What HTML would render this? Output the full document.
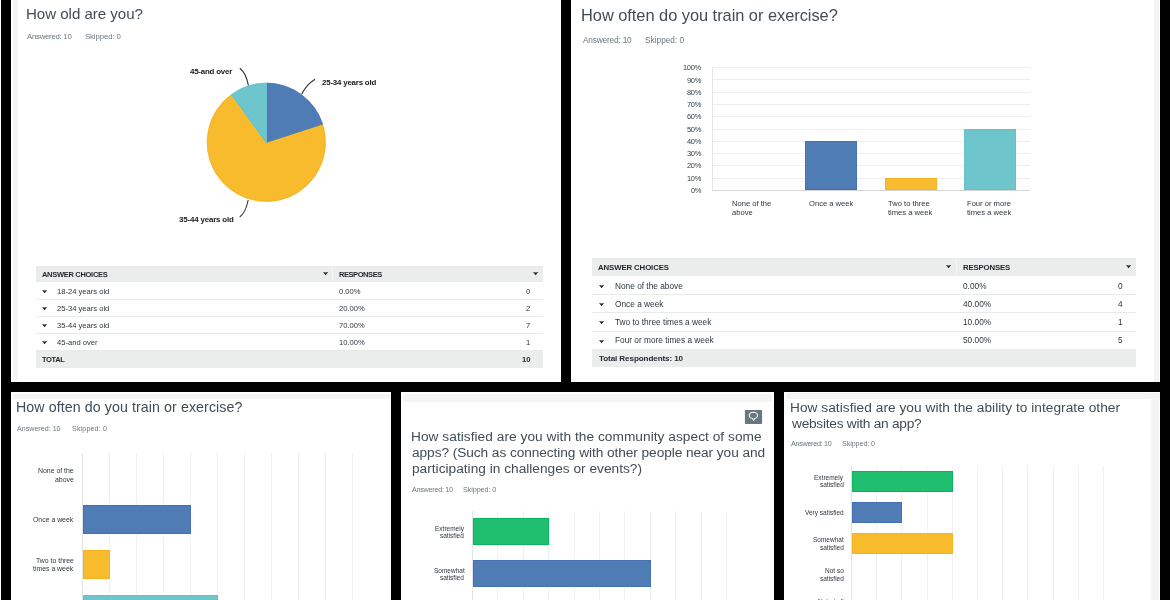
<!DOCTYPE html>
<html><head><meta charset="utf-8">
<style>
html,body{margin:0;padding:0}
body{width:1170px;height:600px;background:#000;position:relative;overflow:hidden;font-family:"Liberation Sans",sans-serif;color:#333e48}
.a{position:absolute;white-space:nowrap;line-height:1;will-change:transform}
</style></head><body>

<div class="a" style="left:0px;top:0px;width:1px;height:600px;background:#fff;"></div>
<div class="a" style="left:11px;top:0px;width:550px;height:382px;background:#fff;"></div>
<div class="a" style="left:12.5px;top:0px;width:4.5px;height:380px;background:#f3f4f4;"></div>
<div class="a" style="left:571px;top:0px;width:589px;height:382px;background:#fff;"></div>
<div class="a" style="left:1154px;top:0px;width:5px;height:382px;background:#f3f4f4;"></div>
<div class="a" style="left:11px;top:392px;width:380px;height:208px;background:#fff;"></div>
<div class="a" style="left:13px;top:394px;width:378px;height:4.5px;background:#f3f4f4;"></div>
<div class="a" style="left:401px;top:392px;width:373px;height:208px;background:#fff;"></div>
<div class="a" style="left:403px;top:394px;width:369px;height:7.5px;background:#f3f4f4;"></div>
<div class="a" style="left:784px;top:392px;width:376px;height:208px;background:#fff;"></div>
<div class="a" style="left:786px;top:393px;width:374px;height:6px;background:#f3f4f4;"></div>
<div class="a" style="left:1151px;top:393px;width:8px;height:207px;background:#f3f4f4;"></div>
<div class="a" style="left:26.20px;top:5.50px;font-size:15.1px;font-weight:400;color:#414c55;letter-spacing:-0.038px;">How old are you?</div>
<div class="a" style="left:27.20px;top:32.90px;font-size:7.8px;font-weight:400;color:#6b787f;letter-spacing:-0.267px;">Answered: 10</div>
<div class="a" style="left:85.20px;top:32.90px;font-size:7.8px;font-weight:400;color:#6b787f;letter-spacing:-0.112px;">Skipped: 0</div>
<svg class="a" style="left:0;top:0" width="600" height="382" viewBox="0 0 600 382"><path d="M266.3,142.3 L266.30,83.10 A59.2,59.2 0 0 1 322.60,124.01 Z" fill="#507cb6" stroke="#3b6fb8" stroke-width="0.8" stroke-linejoin="round"/><path d="M266.3,142.3 L322.60,124.01 A59.2,59.2 0 1 1 231.50,94.41 Z" fill="#f7bb2d" stroke="#f3b01e" stroke-width="0.8" stroke-linejoin="round"/><path d="M266.3,142.3 L231.50,94.41 A59.2,59.2 0 0 1 266.30,83.10 Z" fill="#6ec6cc" stroke="#5cc4d4" stroke-width="0.8" stroke-linejoin="round"/><path d="M266.3,142.3 L322.60,124.01" stroke="#2d6fd6" stroke-width="0.9" fill="none"/><path d="M266.3,142.3 L231.50,94.41" stroke="#48c6ea" stroke-width="0.9" fill="none"/><path d="M266.3,83.10000000000001 L266.3,142.3" stroke="#8fd0d8" stroke-width="0.5" fill="none"/><path d="M239.8,68.2 Q246,73 248.4,85.3" fill="none" stroke="#2e3439" stroke-width="1.1"/><path d="M315,79.2 Q306,85 301.8,94" fill="none" stroke="#2e3439" stroke-width="1.1"/><path d="M248.2,200 Q245.5,213 239.7,217" fill="none" stroke="#2e3439" stroke-width="1.1"/></svg>
<div class="a" style="left:190.40px;top:67.50px;font-size:7.9px;font-weight:700;color:#1a1a1a;letter-spacing:-0.202px;">45-and over</div>
<div class="a" style="left:321.50px;top:79.10px;font-size:7.9px;font-weight:700;color:#1a1a1a;letter-spacing:-0.193px;">25-34 years old</div>
<div class="a" style="left:179.00px;top:215.90px;font-size:7.9px;font-weight:700;color:#1a1a1a;letter-spacing:-0.157px;">35-44 years old</div>
<div class="a" style="left:35.5px;top:266px;width:507.0px;height:16px;background:#ebecec;"></div>
<div class="a" style="left:332px;top:266px;width:1.3px;height:16px;background:#f4f5f5;"></div>
<div class="a" style="left:41.50px;top:271.00px;font-size:7.5px;font-weight:700;color:#1e252b;letter-spacing:-0.299px;">ANSWER CHOICES</div>
<svg class="a" style="left:322.70px;top:271.60px;overflow:visible" width="5.2" height="3.2"><path d="M0,0 L2.60,0.38 L5.20,0 L2.60,3.20 Z" fill="#1e252b"/></svg>
<div class="a" style="left:339.00px;top:271.00px;font-size:7.5px;font-weight:700;color:#1e252b;letter-spacing:-0.435px;">RESPONSES</div>
<svg class="a" style="left:532.50px;top:271.60px;overflow:visible" width="5.2" height="3.2"><path d="M0,0 L2.60,0.38 L5.20,0 L2.60,3.20 Z" fill="#1e252b"/></svg>
<svg class="a" style="left:41.70px;top:290.10px;overflow:visible" width="5.2" height="3.2"><path d="M0,0 L2.60,0.38 L5.20,0 L2.60,3.20 Z" fill="#1e252b"/></svg>
<div class="a" style="left:56.50px;top:288.20px;font-size:7.6px;font-weight:400;color:#2c363f;">18-24 years old</div>
<div class="a" style="left:338.90px;top:288.20px;font-size:7.6px;font-weight:400;color:#2c363f;">0.00%</div>
<div class="a" style="left:526.00px;top:288.20px;font-size:7.6px;font-weight:400;color:#2c363f;">0</div>
<div class="a" style="left:35.5px;top:299px;width:507.0px;height:1.2px;background:#e9eaea;"></div>
<svg class="a" style="left:41.70px;top:307.10px;overflow:visible" width="5.2" height="3.2"><path d="M0,0 L2.60,0.38 L5.20,0 L2.60,3.20 Z" fill="#1e252b"/></svg>
<div class="a" style="left:56.50px;top:305.20px;font-size:7.6px;font-weight:400;color:#2c363f;">25-34 years old</div>
<div class="a" style="left:338.90px;top:305.20px;font-size:7.6px;font-weight:400;color:#2c363f;">20.00%</div>
<div class="a" style="left:526.00px;top:305.20px;font-size:7.6px;font-weight:400;color:#2c363f;">2</div>
<div class="a" style="left:35.5px;top:316px;width:507.0px;height:1.2px;background:#e9eaea;"></div>
<svg class="a" style="left:41.70px;top:324.10px;overflow:visible" width="5.2" height="3.2"><path d="M0,0 L2.60,0.38 L5.20,0 L2.60,3.20 Z" fill="#1e252b"/></svg>
<div class="a" style="left:56.50px;top:322.20px;font-size:7.6px;font-weight:400;color:#2c363f;">35-44 years old</div>
<div class="a" style="left:338.90px;top:322.20px;font-size:7.6px;font-weight:400;color:#2c363f;">70.00%</div>
<div class="a" style="left:526.00px;top:322.20px;font-size:7.6px;font-weight:400;color:#2c363f;">7</div>
<div class="a" style="left:35.5px;top:333px;width:507.0px;height:1.2px;background:#e9eaea;"></div>
<svg class="a" style="left:41.70px;top:341.10px;overflow:visible" width="5.2" height="3.2"><path d="M0,0 L2.60,0.38 L5.20,0 L2.60,3.20 Z" fill="#1e252b"/></svg>
<div class="a" style="left:56.50px;top:339.20px;font-size:7.6px;font-weight:400;color:#2c363f;">45-and over</div>
<div class="a" style="left:338.90px;top:339.20px;font-size:7.6px;font-weight:400;color:#2c363f;">10.00%</div>
<div class="a" style="left:526.00px;top:339.20px;font-size:7.6px;font-weight:400;color:#2c363f;">1</div>
<div class="a" style="left:35.5px;top:350px;width:507.0px;height:1.2px;background:#e9eaea;"></div>
<div class="a" style="left:35.5px;top:350.5px;width:507.0px;height:16.5px;background:#ebecec;"></div>
<div class="a" style="left:41.50px;top:355.50px;font-size:7.5px;font-weight:700;color:#1e252b;letter-spacing:-0.380px;">TOTAL</div>
<div class="a" style="left:521.78px;top:355.50px;font-size:7.6px;font-weight:700;color:#1e252b;">10</div>
<div class="a" style="left:581.30px;top:6.50px;font-size:16.4px;font-weight:400;color:#414c55;letter-spacing:-0.030px;">How often do you train or exercise?</div>
<div class="a" style="left:582.80px;top:35.80px;font-size:8.3px;font-weight:400;color:#6b787f;letter-spacing:-0.184px;">Answered: 10</div>
<div class="a" style="left:644.80px;top:35.80px;font-size:8.3px;font-weight:400;color:#6b787f;letter-spacing:0.001px;">Skipped: 0</div>
<div class="a" style="left:712px;top:67.2px;width:317.5px;height:1px;background:#eeefef;"></div>
<div class="a" style="left:682.79px;top:64.30px;font-size:7.5px;font-weight:400;color:#333e48;letter-spacing:-0.3px;">100%</div>
<div class="a" style="left:712px;top:79.46px;width:317.5px;height:1px;background:#eeefef;"></div>
<div class="a" style="left:686.96px;top:76.56px;font-size:7.5px;font-weight:400;color:#333e48;letter-spacing:-0.3px;">90%</div>
<div class="a" style="left:712px;top:91.72px;width:317.5px;height:1px;background:#eeefef;"></div>
<div class="a" style="left:686.96px;top:88.82px;font-size:7.5px;font-weight:400;color:#333e48;letter-spacing:-0.3px;">80%</div>
<div class="a" style="left:712px;top:103.98px;width:317.5px;height:1px;background:#eeefef;"></div>
<div class="a" style="left:686.96px;top:101.08px;font-size:7.5px;font-weight:400;color:#333e48;letter-spacing:-0.3px;">70%</div>
<div class="a" style="left:712px;top:116.24px;width:317.5px;height:1px;background:#eeefef;"></div>
<div class="a" style="left:686.96px;top:113.34px;font-size:7.5px;font-weight:400;color:#333e48;letter-spacing:-0.3px;">60%</div>
<div class="a" style="left:712px;top:128.5px;width:317.5px;height:1px;background:#eeefef;"></div>
<div class="a" style="left:686.96px;top:125.60px;font-size:7.5px;font-weight:400;color:#333e48;letter-spacing:-0.3px;">50%</div>
<div class="a" style="left:712px;top:140.76px;width:317.5px;height:1px;background:#eeefef;"></div>
<div class="a" style="left:686.96px;top:137.86px;font-size:7.5px;font-weight:400;color:#333e48;letter-spacing:-0.3px;">40%</div>
<div class="a" style="left:712px;top:153.02px;width:317.5px;height:1px;background:#eeefef;"></div>
<div class="a" style="left:686.96px;top:150.12px;font-size:7.5px;font-weight:400;color:#333e48;letter-spacing:-0.3px;">30%</div>
<div class="a" style="left:712px;top:165.28px;width:317.5px;height:1px;background:#eeefef;"></div>
<div class="a" style="left:686.96px;top:162.38px;font-size:7.5px;font-weight:400;color:#333e48;letter-spacing:-0.3px;">20%</div>
<div class="a" style="left:712px;top:177.54px;width:317.5px;height:1px;background:#eeefef;"></div>
<div class="a" style="left:686.96px;top:174.64px;font-size:7.5px;font-weight:400;color:#333e48;letter-spacing:-0.3px;">10%</div>
<div class="a" style="left:691.13px;top:186.90px;font-size:7.5px;font-weight:400;color:#333e48;letter-spacing:-0.3px;">0%</div>
<div class="a" style="left:711.5px;top:67.2px;width:1px;height:122.60000000000001px;background:#e4e5e5;"></div>
<div class="a" style="left:805.26px;top:140.76px;width:51.6px;height:49.04px;background:#507cb6;box-shadow:inset 0 0 0 0.9px #4371b5"></div>
<div class="a" style="left:884.64px;top:177.54px;width:51.6px;height:12.26px;background:#f7bb2d;box-shadow:inset 0 0 0 0.9px #f4b320"></div>
<div class="a" style="left:964.01px;top:128.5px;width:51.6px;height:61.3px;background:#6ec6cc;box-shadow:inset 0 0 0 0.9px #62c2c9"></div>
<div class="a" style="left:711.5px;top:189.6px;width:318.0px;height:1.2px;background:#d3d5d6;"></div>
<div class="a" style="left:731.70px;top:200.20px;font-size:7.6px;font-weight:400;color:#2c363f;">None of the</div>
<div class="a" style="left:731.70px;top:208.60px;font-size:7.6px;font-weight:400;color:#2c363f;">above</div>
<div class="a" style="left:809.10px;top:200.20px;font-size:7.6px;font-weight:400;color:#2c363f;">Once a week</div>
<div class="a" style="left:887.80px;top:200.20px;font-size:7.6px;font-weight:400;color:#2c363f;">Two to three</div>
<div class="a" style="left:887.80px;top:208.60px;font-size:7.6px;font-weight:400;color:#2c363f;">times a week</div>
<div class="a" style="left:967.20px;top:200.20px;font-size:7.6px;font-weight:400;color:#2c363f;">Four or more</div>
<div class="a" style="left:967.20px;top:208.60px;font-size:7.6px;font-weight:400;color:#2c363f;">times a week</div>
<div class="a" style="left:592px;top:258.2px;width:544px;height:17.8px;background:#ebecec;"></div>
<div class="a" style="left:956px;top:258.2px;width:1.3px;height:17.8px;background:#f4f5f5;"></div>
<div class="a" style="left:598.20px;top:264.00px;font-size:7.8px;font-weight:700;color:#1e252b;letter-spacing:-0.103px;">ANSWER CHOICES</div>
<svg class="a" style="left:945.80px;top:265.00px;overflow:visible" width="5.2" height="3.2"><path d="M0,0 L2.60,0.38 L5.20,0 L2.60,3.20 Z" fill="#1e252b"/></svg>
<div class="a" style="left:963.00px;top:264.00px;font-size:7.8px;font-weight:700;color:#1e252b;letter-spacing:-0.166px;">RESPONSES</div>
<svg class="a" style="left:1125.60px;top:265.00px;overflow:visible" width="5.2" height="3.2"><path d="M0,0 L2.60,0.38 L5.20,0 L2.60,3.20 Z" fill="#1e252b"/></svg>
<svg class="a" style="left:598.80px;top:284.90px;overflow:visible" width="5.2" height="3.2"><path d="M0,0 L2.60,0.38 L5.20,0 L2.60,3.20 Z" fill="#1e252b"/></svg>
<div class="a" style="left:614.80px;top:281.50px;font-size:8.3px;font-weight:400;color:#2c363f;">None of the above</div>
<div class="a" style="left:963.00px;top:281.50px;font-size:8.3px;font-weight:400;color:#2c363f;">0.00%</div>
<div class="a" style="left:1117.80px;top:281.50px;font-size:8.3px;font-weight:400;color:#2c363f;">0</div>
<div class="a" style="left:592px;top:294.2px;width:544px;height:1.2px;background:#e9eaea;"></div>
<svg class="a" style="left:598.80px;top:303.10px;overflow:visible" width="5.2" height="3.2"><path d="M0,0 L2.60,0.38 L5.20,0 L2.60,3.20 Z" fill="#1e252b"/></svg>
<div class="a" style="left:614.80px;top:299.70px;font-size:8.3px;font-weight:400;color:#2c363f;">Once a week</div>
<div class="a" style="left:963.00px;top:299.70px;font-size:8.3px;font-weight:400;color:#2c363f;">40.00%</div>
<div class="a" style="left:1117.80px;top:299.70px;font-size:8.3px;font-weight:400;color:#2c363f;">4</div>
<div class="a" style="left:592px;top:312.4px;width:544px;height:1.2px;background:#e9eaea;"></div>
<svg class="a" style="left:598.80px;top:321.30px;overflow:visible" width="5.2" height="3.2"><path d="M0,0 L2.60,0.38 L5.20,0 L2.60,3.20 Z" fill="#1e252b"/></svg>
<div class="a" style="left:614.80px;top:317.90px;font-size:8.3px;font-weight:400;color:#2c363f;">Two to three times a week</div>
<div class="a" style="left:963.00px;top:317.90px;font-size:8.3px;font-weight:400;color:#2c363f;">10.00%</div>
<div class="a" style="left:1117.80px;top:317.90px;font-size:8.3px;font-weight:400;color:#2c363f;">1</div>
<div class="a" style="left:592px;top:330.6px;width:544px;height:1.2px;background:#e9eaea;"></div>
<svg class="a" style="left:598.80px;top:339.50px;overflow:visible" width="5.2" height="3.2"><path d="M0,0 L2.60,0.38 L5.20,0 L2.60,3.20 Z" fill="#1e252b"/></svg>
<div class="a" style="left:614.80px;top:336.10px;font-size:8.3px;font-weight:400;color:#2c363f;">Four or more times a week</div>
<div class="a" style="left:963.00px;top:336.10px;font-size:8.3px;font-weight:400;color:#2c363f;">50.00%</div>
<div class="a" style="left:1117.80px;top:336.10px;font-size:8.3px;font-weight:400;color:#2c363f;">5</div>
<div class="a" style="left:592px;top:348.8px;width:544px;height:1.2px;background:#e9eaea;"></div>
<div class="a" style="left:592px;top:348.8px;width:544px;height:17.9px;background:#ebecec;"></div>
<div class="a" style="left:598.70px;top:355.00px;font-size:8.1px;font-weight:700;color:#1e252b;letter-spacing:-0.105px;">Total Respondents: 10</div>
<div class="a" style="left:16.20px;top:399.90px;font-size:14.2px;font-weight:400;color:#414c55;letter-spacing:0.095px;">How often do you train or exercise?</div>
<div class="a" style="left:17.20px;top:426.40px;font-size:7.1px;font-weight:400;color:#6b787f;letter-spacing:0.015px;">Answered: 10</div>
<div class="a" style="left:72.00px;top:426.40px;font-size:7.1px;font-weight:400;color:#6b787f;letter-spacing:0.147px;">Skipped: 0</div>
<div class="a" style="left:109.0px;top:452.8px;width:1px;height:147.2px;background:#f1f1f1;"></div>
<div class="a" style="left:136.0px;top:452.8px;width:1px;height:147.2px;background:#f1f1f1;"></div>
<div class="a" style="left:163.0px;top:452.8px;width:1px;height:147.2px;background:#f1f1f1;"></div>
<div class="a" style="left:190.0px;top:452.8px;width:1px;height:147.2px;background:#f1f1f1;"></div>
<div class="a" style="left:217.0px;top:452.8px;width:1px;height:147.2px;background:#f1f1f1;"></div>
<div class="a" style="left:244.0px;top:452.8px;width:1px;height:147.2px;background:#f1f1f1;"></div>
<div class="a" style="left:271.0px;top:452.8px;width:1px;height:147.2px;background:#f1f1f1;"></div>
<div class="a" style="left:298.0px;top:452.8px;width:1px;height:147.2px;background:#f1f1f1;"></div>
<div class="a" style="left:325.0px;top:452.8px;width:1px;height:147.2px;background:#f1f1f1;"></div>
<div class="a" style="left:352.0px;top:452.8px;width:1px;height:147.2px;background:#f1f1f1;"></div>
<div class="a" style="left:82.0px;top:452.8px;width:1px;height:147.2px;background:#e2e3e3;"></div>
<div class="a" style="left:38.00px;top:468.45px;font-size:6.9px;font-weight:400;color:#2c363f;">None of the</div>
<div class="a" style="left:54.86px;top:476.65px;font-size:6.9px;font-weight:400;color:#2c363f;">above</div>
<div class="a" style="left:82.5px;top:505.25px;width:108.0px;height:28.6px;background:#507cb6;box-shadow:inset 0 0 0 0.9px #4371b5"></div>
<div class="a" style="left:33.03px;top:517.25px;font-size:6.9px;font-weight:400;color:#2c363f;">Once a week</div>
<div class="a" style="left:82.5px;top:549.95px;width:27.0px;height:28.6px;background:#f7bb2d;box-shadow:inset 0 0 0 0.9px #f4b320"></div>
<div class="a" style="left:35.71px;top:557.85px;font-size:6.9px;font-weight:400;color:#2c363f;">Two to three</div>
<div class="a" style="left:33.04px;top:566.05px;font-size:6.9px;font-weight:400;color:#2c363f;">times a week</div>
<div class="a" style="left:82.5px;top:594.65px;width:135.0px;height:28.6px;background:#6ec6cc;box-shadow:inset 0 0 0 0.9px #62c2c9"></div>
<div class="a" style="left:33.81px;top:602.55px;font-size:6.9px;font-weight:400;color:#2c363f;">Four or more</div>
<div class="a" style="left:33.04px;top:610.75px;font-size:6.9px;font-weight:400;color:#2c363f;">times a week</div>
<div class="a" style="left:410.60px;top:430.30px;font-size:13.7px;font-weight:400;color:#414c55;letter-spacing:0.041px;">How satisfied are you with the community aspect of some</div>
<div class="a" style="left:411.60px;top:446.05px;font-size:13.7px;font-weight:400;color:#414c55;letter-spacing:-0.068px;">apps? (Such as connecting with other people near you and</div>
<div class="a" style="left:411.60px;top:461.80px;font-size:13.7px;font-weight:400;color:#414c55;letter-spacing:0.007px;">participating in challenges or events?)</div>
<div class="a" style="left:411.70px;top:485.70px;font-size:7.2px;font-weight:400;color:#6b787f;letter-spacing:-0.259px;">Answered: 10</div>
<div class="a" style="left:463.00px;top:485.70px;font-size:7.2px;font-weight:400;color:#6b787f;letter-spacing:-0.074px;">Skipped: 0</div>
<svg class="a" style="left:744px;top:409px" width="20" height="17" viewBox="744 409 20 17"><rect x="744.9" y="410.1" width="17.2" height="13.9" rx="1" fill="#687880"/><ellipse cx="753.4" cy="415.4" rx="4.2" ry="3.1" fill="none" stroke="#fff" stroke-width="1.1"/><path d="M752.3,418.2 L753.6,420.6 L755.2,418" fill="#687880" stroke="#fff" stroke-width="1" stroke-linejoin="miter"/></svg>
<div class="a" style="left:497.4px;top:511.3px;width:1px;height:88.69999999999999px;background:#f1f1f1;"></div>
<div class="a" style="left:522.8px;top:511.3px;width:1px;height:88.69999999999999px;background:#f1f1f1;"></div>
<div class="a" style="left:548.2px;top:511.3px;width:1px;height:88.69999999999999px;background:#f1f1f1;"></div>
<div class="a" style="left:573.6px;top:511.3px;width:1px;height:88.69999999999999px;background:#f1f1f1;"></div>
<div class="a" style="left:599.0px;top:511.3px;width:1px;height:88.69999999999999px;background:#f1f1f1;"></div>
<div class="a" style="left:624.4px;top:511.3px;width:1px;height:88.69999999999999px;background:#f1f1f1;"></div>
<div class="a" style="left:649.8px;top:511.3px;width:1px;height:88.69999999999999px;background:#f1f1f1;"></div>
<div class="a" style="left:675.2px;top:511.3px;width:1px;height:88.69999999999999px;background:#f1f1f1;"></div>
<div class="a" style="left:700.6px;top:511.3px;width:1px;height:88.69999999999999px;background:#f1f1f1;"></div>
<div class="a" style="left:726.0px;top:511.3px;width:1px;height:88.69999999999999px;background:#f1f1f1;"></div>
<div class="a" style="left:472.0px;top:511.3px;width:1px;height:88.69999999999999px;background:#e2e3e3;"></div>
<div class="a" style="left:472.5px;top:518.35px;width:76.2px;height:26.7px;background:#20bf70;box-shadow:inset 0 0 0 0.9px #08b45f"></div>
<div class="a" style="left:435.06px;top:526.15px;font-size:6.5px;font-weight:400;color:#2c363f;">Extremely</div>
<div class="a" style="left:440.47px;top:533.45px;font-size:6.5px;font-weight:400;color:#2c363f;">satisfied</div>
<div class="a" style="left:472.5px;top:559.95px;width:177.8px;height:26.7px;background:#507cb6;box-shadow:inset 0 0 0 0.9px #4371b5"></div>
<div class="a" style="left:433.80px;top:567.75px;font-size:6.5px;font-weight:400;color:#2c363f;">Somewhat</div>
<div class="a" style="left:440.47px;top:575.05px;font-size:6.5px;font-weight:400;color:#2c363f;">satisfied</div>
<div class="a" style="left:445.53px;top:609.35px;font-size:6.5px;font-weight:400;color:#2c363f;">Not so</div>
<div class="a" style="left:440.47px;top:616.65px;font-size:6.5px;font-weight:400;color:#2c363f;">satisfied</div>
<div class="a" style="left:790.00px;top:400.90px;font-size:13.7px;font-weight:400;color:#414c55;letter-spacing:0.038px;">How satisfied are you with the ability to integrate other</div>
<div class="a" style="left:792.00px;top:416.60px;font-size:13.7px;font-weight:400;color:#414c55;letter-spacing:-0.253px;">websites with an app?</div>
<div class="a" style="left:791.00px;top:439.80px;font-size:7.2px;font-weight:400;color:#6b787f;letter-spacing:-0.296px;">Answered: 10</div>
<div class="a" style="left:841.90px;top:439.80px;font-size:7.2px;font-weight:400;color:#6b787f;letter-spacing:-0.096px;">Skipped: 0</div>
<div class="a" style="left:876.2px;top:465.9px;width:1px;height:134.10000000000002px;background:#f1f1f1;"></div>
<div class="a" style="left:901.4px;top:465.9px;width:1px;height:134.10000000000002px;background:#f1f1f1;"></div>
<div class="a" style="left:926.6px;top:465.9px;width:1px;height:134.10000000000002px;background:#f1f1f1;"></div>
<div class="a" style="left:951.8px;top:465.9px;width:1px;height:134.10000000000002px;background:#f1f1f1;"></div>
<div class="a" style="left:977.0px;top:465.9px;width:1px;height:134.10000000000002px;background:#f1f1f1;"></div>
<div class="a" style="left:1002.2px;top:465.9px;width:1px;height:134.10000000000002px;background:#f1f1f1;"></div>
<div class="a" style="left:1027.4px;top:465.9px;width:1px;height:134.10000000000002px;background:#f1f1f1;"></div>
<div class="a" style="left:1052.6px;top:465.9px;width:1px;height:134.10000000000002px;background:#f1f1f1;"></div>
<div class="a" style="left:1077.8px;top:465.9px;width:1px;height:134.10000000000002px;background:#f1f1f1;"></div>
<div class="a" style="left:1103.0px;top:465.9px;width:1px;height:134.10000000000002px;background:#f1f1f1;"></div>
<div class="a" style="left:851.0px;top:465.9px;width:1px;height:134.10000000000002px;background:#e2e3e3;"></div>
<div class="a" style="left:851.5px;top:470.92px;width:100.8px;height:21.0px;background:#20bf70;box-shadow:inset 0 0 0 0.9px #08b45f"></div>
<div class="a" style="left:814.36px;top:475.17px;font-size:6.5px;font-weight:400;color:#2c363f;">Extremely</div>
<div class="a" style="left:819.77px;top:482.47px;font-size:6.5px;font-weight:400;color:#2c363f;">satisfied</div>
<div class="a" style="left:851.5px;top:501.98px;width:50.4px;height:21.0px;background:#507cb6;box-shadow:inset 0 0 0 0.9px #4371b5"></div>
<div class="a" style="left:804.96px;top:509.88px;font-size:6.5px;font-weight:400;color:#2c363f;">Very satisfied</div>
<div class="a" style="left:851.5px;top:533.02px;width:100.8px;height:21.0px;background:#f7bb2d;box-shadow:inset 0 0 0 0.9px #f4b320"></div>
<div class="a" style="left:813.10px;top:537.27px;font-size:6.5px;font-weight:400;color:#2c363f;">Somewhat</div>
<div class="a" style="left:819.77px;top:544.57px;font-size:6.5px;font-weight:400;color:#2c363f;">satisfied</div>
<div class="a" style="left:824.83px;top:568.32px;font-size:6.5px;font-weight:400;color:#2c363f;">Not so</div>
<div class="a" style="left:819.77px;top:575.62px;font-size:6.5px;font-weight:400;color:#2c363f;">satisfied</div>
<div class="a" style="left:817.79px;top:599.38px;font-size:6.5px;font-weight:400;color:#2c363f;">Not at all</div>
<div class="a" style="left:819.77px;top:606.67px;font-size:6.5px;font-weight:400;color:#2c363f;">satisfied</div>
</body></html>
